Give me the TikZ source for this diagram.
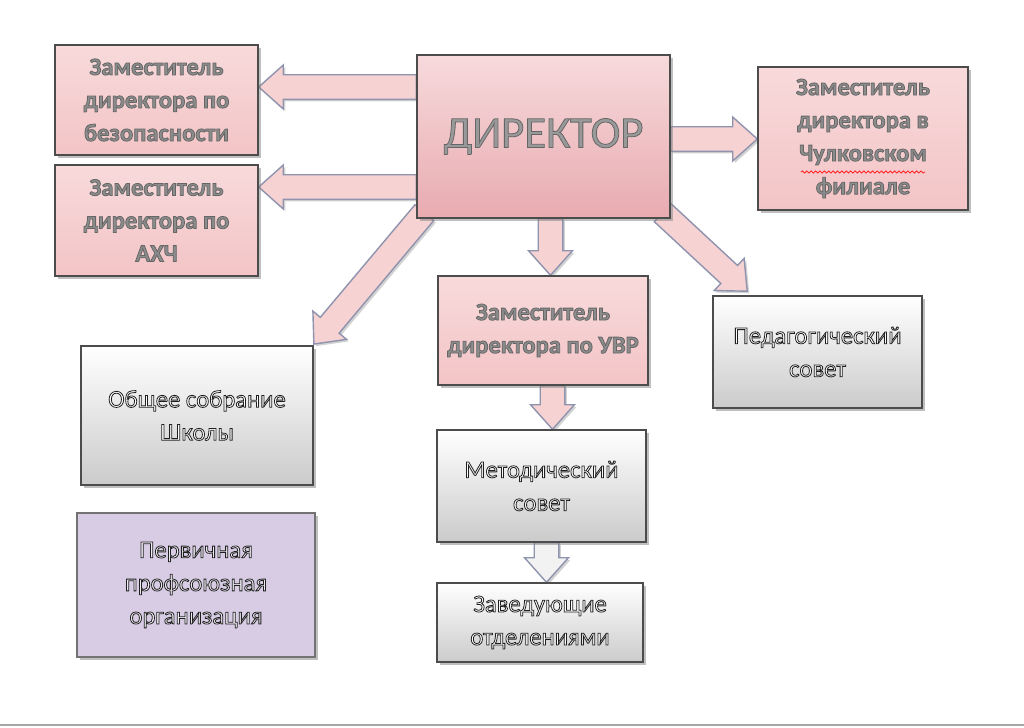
\documentclass[tikz,border=0pt]{standalone}
\usepackage{fontspec}
\setmainfont{Carlito}
\usepackage{tikz}
\usetikzlibrary{calc, shadows, backgrounds, decorations.pathmorphing}

\definecolor{deputypink}{HTML}{F3C4C6}
\definecolor{deputylight}{HTML}{F8DADB}
\definecolor{dirtop}{HTML}{F7DADC}
\definecolor{dirbottom}{HTML}{E8ABB0}
\definecolor{councilgray}{HTML}{CBCBCB}
\definecolor{unionlilac}{HTML}{D8CCE4}
\definecolor{arrowpink}{HTML}{F7D2D2}
\definecolor{arrowwhite}{HTML}{F2F2F2}
\definecolor{arrowedge}{HTML}{8E93AE}

% outlined letters
\newcommand{\pinkoutline}{\special{pdf:code 2 Tr 0.40 0.40 0.40 RG 0.45 w}}
\newcommand{\darkoutline}{\special{pdf:code 2 Tr 0.12 0.12 0.12 RG 0.45 w}}
\newcommand{\plainletters}{\special{pdf:code 0 Tr}}

\tikzstyle{component} = [rectangle, draw=black!70, line width=0.8pt, align=center,
    inner sep=2pt, drop shadow={shadow xshift=1.6pt, shadow yshift=-1.6pt, opacity=0.5}]
\tikzstyle{deputy} = [component, top color=deputylight, bottom color=deputypink,
    text=black!45, font=\bfseries\fontsize{14}{18.8}\selectfont]
\tikzstyle{director} = [component, top color=dirtop, bottom color=dirbottom,
    text=black!40, font=\fontsize{25.5}{30}\selectfont]
\tikzstyle{council} = [component, top color=white, bottom color=councilgray,
    text=white, font=\fontsize{14}{18.8}\selectfont]
\tikzstyle{union} = [component, fill=unionlilac, draw=black!55,
    text=unionlilac!40, font=\fontsize{14}{18.8}\selectfont]
\tikzstyle{line} = [draw=arrowedge, line width=0.8pt, fill=arrowpink,
    drop shadow={shadow xshift=1.2pt, shadow yshift=-1.2pt, opacity=0.35}]

% block arrow from #2 to #3
\newcommand{\blockarrow}[3][arrowpink]{%
    \path[line, fill=#1] let \p1=($(#3)-(#2)$), \n1={atan2(\y1,\x1)}, \n2={veclen(\x1,\y1)} in
        [shift={(#2)}, rotate=\n1]
        (0pt,-7pt) -- ({(\n2-14)*1pt},-7pt) -- ({(\n2-14)*1pt},-12.5pt) -- ({\n2*1pt},0pt)
        -- ({(\n2-14)*1pt},12.5pt) -- ({(\n2-14)*1pt},7pt) -- (0pt,7pt) -- cycle;
}

\begin{document}
\begin{tikzpicture}[x=0.02cm, y=-0.02cm]
    \useasboundingbox (0,0) rectangle (1024,727);
    % Nodes
    \node [director, minimum width=5.06cm, minimum height=3.26cm] (dir) at (543.5,136.5)
        {\pinkoutline ДИРЕКТОР\plainletters};
    \node [deputy, minimum width=4.06cm, minimum height=2.2cm] (bez) at (156.5,100)
        {\pinkoutline Заместитель\\директора по\\безопасности\plainletters};
    \node [deputy, minimum width=4.06cm, minimum height=2.22cm] (ahch) at (156.5,220.5)
        {\pinkoutline Заместитель\\директора по\\АХЧ\plainletters};
    \node [deputy, minimum width=4.2cm, minimum height=2.86cm] (chul) at (863,138.5)
        {\pinkoutline Заместитель\\директора в\\Чулковском\\филиале\plainletters};
    \node [deputy, minimum width=4.2cm, minimum height=2.18cm] (uvr) at (543,330.5)
        {\pinkoutline Заместитель\\директора по УВР\plainletters};
    \node [council, minimum width=4.18cm, minimum height=2.24cm] (ped) at (817.5,352)
        {\darkoutline Педагогический\\совет\plainletters};
    \node [council, minimum width=4.64cm, minimum height=2.78cm] (sobr) at (197,415.5)
        {\darkoutline Общее собрание\\Школы\plainletters};
    \node [council, minimum width=4.18cm, minimum height=2.24cm] (metod) at (541.5,486)
        {\darkoutline Методический\\совет\plainletters};
    \node [council, minimum width=4.12cm, minimum height=1.58cm] (zav) at (540,622.5)
        {\darkoutline Заведующие\\отделениями\plainletters};
    \node [union, minimum width=4.76cm, minimum height=2.88cm] (prof) at (196,585)
        {\darkoutline Первичная\\профсоюзная\\организация\plainletters};
    % spelling mark
    \draw [red!85, line width=0.5pt, decorate, decoration={snake, amplitude=0.6pt, segment length=2.5pt}]
        ($(chul.center)+(-62,33.5)$) -- ($(chul.center)+(62,33.5)$);
    % Edges
    \coordinate (bezS) at ($(dir.west)+(0,-49.5)$);
    \coordinate (bezE) at ($(bez.east)+(0,-13)$);
    \coordinate (ahchS) at ($(dir.west)+(0,50.5)$);
    \coordinate (ahchE) at ($(ahch.east)+(0,-33.5)$);
    \coordinate (chulS) at ($(dir.east)+(0,2.5)$);
    \coordinate (chulE) at ($(chul.west)+(0,0.5)$);
    \coordinate (uvrS) at ($(dir.south)+(7,0)$);
    \coordinate (uvrE) at ($(uvr.north)+(7.5,0)$);
    \coordinate (sobrS) at ($(dir.south west)+(8,-6)$);
    \coordinate (sobrE) at ($(sobr.north east)+(0,-1)$);
    \coordinate (pedS) at ($(dir.south east)+(-8,-6)$);
    \coordinate (pedE) at ($(ped.north west)+(35,-4)$);
    \coordinate (metodS) at ($(uvr.south)+(9.5,0)$);
    \coordinate (metodE) at ($(metod.north)+(11,0)$);
    \coordinate (zavS) at ($(metod.south)+(5,0)$);
    \coordinate (zavE) at ($(zav.north)+(6.5,0)$);
    \begin{scope}[on background layer]
        \blockarrow{bezS}{bezE}
        \blockarrow{ahchS}{ahchE}
        \blockarrow{chulS}{chulE}
        \blockarrow{uvrS}{uvrE}
        \blockarrow{sobrS}{sobrE}
        \blockarrow{pedS}{pedE}
        \blockarrow{metodS}{metodE}
        \blockarrow[arrowwhite]{zavS}{zavE}
    \end{scope}
    \draw [black!35, line width=1.2pt] (0,725) -- (1024,725);
\end{tikzpicture}
\end{document}
